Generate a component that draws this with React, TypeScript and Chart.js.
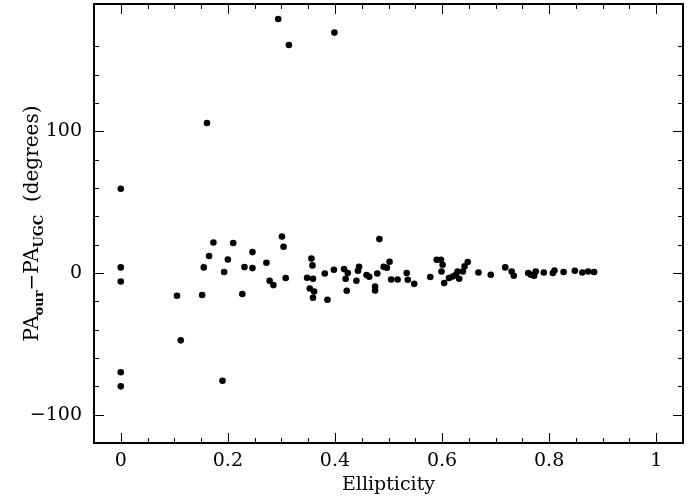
import React, { useEffect, useRef } from "react";
import { Chart, registerables } from "chart.js";

Chart.register(...registerables);

const ellipticity = [
  0, 0, 0, 0, 0,
  0.105, 0.112, 0.152, 0.155, 0.161, 0.165, 0.173, 0.19, 0.193, 0.2,
  0.21, 0.227, 0.231, 0.246, 0.246, 0.272, 0.278, 0.285, 0.294, 0.301,
  0.304, 0.308, 0.314, 0.348, 0.353, 0.356, 0.358, 0.359, 0.359, 0.361,
  0.381, 0.386, 0.398, 0.399, 0.417, 0.42, 0.422, 0.424, 0.44, 0.443,
  0.445, 0.459, 0.464, 0.475, 0.475, 0.479, 0.483, 0.491, 0.497, 0.502,
  0.505, 0.517, 0.534, 0.536, 0.548, 0.578, 0.59, 0.598, 0.601, 0.599,
  0.604, 0.613, 0.62, 0.626, 0.629, 0.632, 0.639, 0.642, 0.648, 0.668,
  0.691, 0.718, 0.73, 0.734, 0.761, 0.766, 0.772, 0.775, 0.79, 0.807,
  0.81, 0.827, 0.848, 0.862, 0.873, 0.884,
];

const paDifference = [
  59.5, 4, -6, -70, -80,
  -16, -47.5, -15.5, 4, 106, 12, 21.6, -76, 0.7, 9.6,
  21.2, -14.8, 4.2, 14.8, 3.5, 7.3, -5.4, -8.5, 179.4, 25.8,
  18.6, -3.5, 161, -3.3, -10.9, 10.3, 5.4, -4, -17.4, -13,
  -0.3, -18.8, 2.3, 169.8, 2.8, -4, -12.5, 0, -5.4, 1.6,
  4.4, -1.4, -2.6, -9.5, -12.3, -0.3, 24, 4.4, 3.7, 8,
  -4.5, -4.5, 0, -4.7, -7.6, -2.8, 9.4, 9.4, 5.9, 1.1,
  -7.1, -3.5, -2.4, -1.2, 1.1, -4, 1.1, 4.7, 7.8, 0.4,
  -1.2, 4, 1.1, -1.9, 0, -1.2, -1.9, 1.1, 0.4, 0,
  1.8, 0.7, 1.6, 0.4, 1.1, 0.7,
];

const xMajorTicks = [0, 0.2, 0.4, 0.6, 0.8, 1];
const xTickLabels = ["0", "0.2", "0.4", "0.6", "0.8", "1"];
const yMajorTicks = [-100, 0, 100];
const yTickLabels = ["\u2212100", "0", "100"];

const FONT = "'DejaVu Serif', 'Liberation Serif', serif";

const near = (a: number, b: number) => Math.abs(a - b) < 1e-6;

const framePlugin = {
  id: "framePlugin",
  afterDraw(chart: any) {
    const { ctx, chartArea } = chart;
    const { left, right, top, bottom } = chartArea;
    const xs = chart.scales.x;
    const ys = chart.scales.y;
    ctx.save();
    ctx.strokeStyle = "#000";
    ctx.lineWidth = 1;
    ctx.beginPath();
    xs.ticks.forEach((t: any) => {
      const v = t.value;
      if (v <= xs.min + 1e-6 || v >= xs.max - 1e-6) return;
      const major = xMajorTicks.some((m) => near(m, v));
      const len = major ? 10 : 5;
      const px = Math.round(xs.getPixelForValue(v)) + 0.5;
      ctx.moveTo(px, bottom);
      ctx.lineTo(px, bottom - len);
      ctx.moveTo(px, top);
      ctx.lineTo(px, top + len);
    });
    ys.ticks.forEach((t: any) => {
      const v = t.value;
      if (v <= ys.min + 1e-6 || v >= ys.max - 1e-6) return;
      const major = yMajorTicks.some((m) => near(m, v));
      const len = major ? 10 : 5;
      const py = Math.round(ys.getPixelForValue(v)) + 0.5;
      ctx.moveTo(left, py);
      ctx.lineTo(left + len, py);
      ctx.moveTo(right, py);
      ctx.lineTo(right - len, py);
    });
    ctx.stroke();
    ctx.lineWidth = 2;
    ctx.strokeRect(left, top, right - left, bottom - top);

    const big = `20px ${FONT}`;
    const small = `bold 13px ${FONT}`;
    const parts = [
      { t: "PA", f: big, dy: 0 },
      { t: "our", f: small, dy: 5 },
      { t: "\u2212PA", f: big, dy: 0 },
      { t: "UGC", f: small, dy: 5 },
      { t: "  (degrees)", f: big, dy: 0 },
    ];
    let total = 0;
    parts.forEach((p) => {
      ctx.font = p.f;
      total += ctx.measureText(p.t).width;
    });
    ctx.translate(38, (top + bottom) / 2);
    ctx.rotate(-Math.PI / 2);
    ctx.fillStyle = "#000";
    ctx.textBaseline = "alphabetic";
    ctx.textAlign = "left";
    let x = -total / 2;
    parts.forEach((p) => {
      ctx.font = p.f;
      ctx.fillText(p.t, x, p.dy);
      x += ctx.measureText(p.t).width;
    });
    ctx.restore();
  },
};

export default function App() {
  const canvasRef = useRef<HTMLCanvasElement | null>(null);

  useEffect(() => {
    if (!canvasRef.current) return;
    const points = ellipticity.map((e, i) => ({ x: e, y: paDifference[i] }));
    const chart = new Chart(canvasRef.current, {
      type: "scatter",
      data: {
        datasets: [
          {
            data: points,
            backgroundColor: "#000",
            borderWidth: 0,
            pointRadius: 3.3,
            pointHoverRadius: 3.3,
          },
        ],
      },
      options: {
        animation: false,
        responsive: false,
        maintainAspectRatio: false,
        events: [],
        layout: { padding: { top: 4, right: 7, left: 0, bottom: 0 } },
        plugins: {
          legend: { display: false },
          tooltip: { enabled: false },
        },
        scales: {
          x: {
            type: "linear",
            min: -0.05,
            max: 1.05,
            grid: { display: false, drawTicks: false },
            border: { display: false },
            ticks: {
              stepSize: 0.05,
              autoSkip: false,
              maxRotation: 0,
              padding: 7,
              color: "#000",
              font: { family: FONT, size: 19 },
              callback: (v: any) => {
                const i = xMajorTicks.findIndex((m) => near(m, Number(v)));
                return i >= 0 ? xTickLabels[i] : "";
              },
            },
            title: {
              display: true,
              text: "Ellipticity",
              color: "#000",
              font: { family: FONT, size: 19 },
              padding: { top: 0, bottom: 2 },
            },
            afterFit: (s: any) => {
              s.height = 55;
              s.paddingLeft = 0;
              s.paddingRight = 0;
            },
          },
          y: {
            type: "linear",
            min: -120,
            max: 190,
            grid: { display: false, drawTicks: false },
            border: { display: false },
            ticks: {
              stepSize: 20,
              autoSkip: false,
              padding: 12,
              color: "#000",
              font: { family: FONT, size: 19 },
              callback: (v: any) => {
                const i = yMajorTicks.findIndex((m) => near(m, Number(v)));
                return i >= 0 ? yTickLabels[i] : "";
              },
            },
            afterFit: (s: any) => {
              s.width = 94;
              s.paddingTop = 0;
              s.paddingBottom = 0;
            },
          },
        },
      },
      plugins: [framePlugin],
    });
    return () => chart.destroy();
  }, []);

  return (
    <div style={{ position: "fixed", left: 0, top: 0, width: 690, height: 498, background: "#fff" }}>
      <canvas ref={canvasRef} width={690} height={498} style={{ width: 690, height: 498 }} />
    </div>
  );
}
